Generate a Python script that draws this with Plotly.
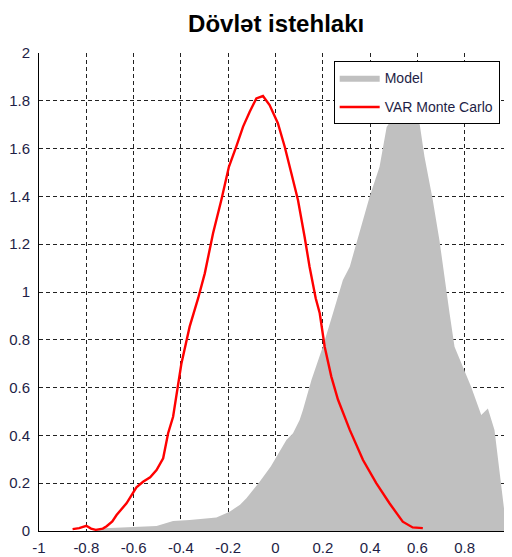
import plotly.graph_objects as go

# Model (gray area) density
model_x = [-0.765, -0.728, -0.65, -0.55, -0.503, -0.433, -0.363, -0.25, -0.194, -0.15, -0.123,
           -0.067, -0.02, 0.046, 0.074, 0.102, 0.116, 0.152, 0.2, 0.243, 0.285, 0.314, 0.363,
           0.398, 0.44, 0.47, 0.51, 0.55, 0.59, 0.61, 0.63, 0.665, 0.693, 0.715, 0.736, 0.757,
           0.792, 0.827, 0.87, 0.898, 0.926, 0.947, 0.972, 0.996, 1.0]
model_y = [0.0, 0.011, 0.015, 0.02, 0.021, 0.042, 0.046, 0.057, 0.081, 0.11, 0.137,
           0.206, 0.27, 0.381, 0.409, 0.464, 0.506, 0.632, 0.771, 0.911, 1.05, 1.106, 1.273,
           1.399, 1.524, 1.69, 1.75, 1.77, 1.74, 1.70, 1.566, 1.385, 1.218, 1.05, 0.911, 0.771,
           0.687, 0.604, 0.485, 0.513, 0.423, 0.255, 0.046, 0.255, 0.28]

# VAR Monte Carlo density
var_x = [-0.858, -0.83, -0.80, -0.78, -0.76, -0.73, -0.714, -0.69, -0.672, -0.63, -0.588,
         -0.56, -0.53, -0.503, -0.475, -0.454, -0.433, -0.425, -0.415, -0.398, -0.363, -0.327,
         -0.299, -0.264, -0.229, -0.197, -0.166, -0.137, -0.109, -0.081, -0.053, -0.025, 0.01,
         0.039, 0.067, 0.095, 0.123, 0.144, 0.17, 0.187, 0.208, 0.236, 0.264, 0.292, 0.314,
         0.37, 0.426, 0.482, 0.538, 0.58, 0.623]
var_y = [0.008, 0.012, 0.022, 0.01, 0.005, 0.01, 0.02, 0.04, 0.067, 0.116, 0.183,
         0.206, 0.225, 0.255, 0.304, 0.409, 0.478, 0.53, 0.6, 0.70, 0.855, 0.974,
         1.078, 1.246, 1.385, 1.524, 1.608, 1.692, 1.754, 1.81, 1.82, 1.782, 1.706,
         1.608, 1.497, 1.385, 1.231, 1.106, 0.974, 0.911, 0.771, 0.646, 0.55, 0.478, 0.423,
         0.297, 0.2, 0.116, 0.039, 0.015, 0.012]

x_ticks = [-1, -0.8, -0.6, -0.4, -0.2, 0, 0.2, 0.4, 0.6, 0.8]
x_labels = ["-1", "-0.8", "-0.6", "-0.4", "-0.2", "0", "0.2", "0.4", "0.6", "0.8"]
y_ticks = [0, 0.2, 0.4, 0.6, 0.8, 1, 1.2, 1.4, 1.6, 1.8, 2]
y_labels = ["0", "0.2", "0.4", "0.6", "0.8", "1", "1.2", "1.4", "1.6", "1.8", "2"]

font_narrow = "Liberation Sans Narrow, Arial Narrow, Liberation Sans, Arial, sans-serif"
tick_color = "#1e1e46"

fig = go.Figure()
fig.add_trace(go.Scatter(x=model_x, y=model_y, mode="lines", fill="tozeroy",
                         fillcolor="#c0c0c0", line=dict(width=0, color="#c0c0c0"),
                         name="Model", legendgroup="a"))
fig.add_trace(go.Scatter(x=var_x, y=var_y, mode="lines",
                         line=dict(color="#ff0000", width=2.4),
                         name="VAR Monte Carlo", legendgroup="b"))

# page body has an 8px default margin; figure is sized to fit the 512x557 window
fig.update_layout(
    width=504, height=549,
    margin=dict(l=31, r=0, t=45, b=26, autoexpand=False),
    paper_bgcolor="white", plot_bgcolor="white",
    title=dict(text="<b>Dövlət istehlakı</b>", x=0.532, xanchor="center",
               y=0.972, yanchor="middle",
               font=dict(family="Liberation Sans, Arial, sans-serif", size=24, color="black")),
    showlegend=True,
    legend=dict(x=0.623, y=0.983, xanchor="left", yanchor="top",
                bgcolor="white", bordercolor="black", borderwidth=1,
                font=dict(family=font_narrow, size=14, color=tick_color),
                traceorder="grouped", tracegroupgap=8, itemwidth=40),
    xaxis=dict(range=[-1, 1], tickvals=x_ticks, ticktext=x_labels,
               showgrid=True, gridcolor="#222222", griddash="4px,3px", gridwidth=1,
               showline=True, linecolor="black", linewidth=1, layer="below traces",
               zeroline=False, ticks="", ticklabelstandoff=3, automargin=False,
               tickfont=dict(family=font_narrow, size=15, color=tick_color)),
    yaxis=dict(range=[0, 2], tickvals=y_ticks, ticktext=y_labels,
               showgrid=True, gridcolor="#222222", griddash="4px,3px", gridwidth=1,
               showline=True, linecolor="black", linewidth=1, layer="below traces",
               zeroline=False, ticks="", ticklabelstandoff=5, automargin=False,
               tickfont=dict(family=font_narrow, size=15, color=tick_color)),
)

fig.write_html("out.html")
